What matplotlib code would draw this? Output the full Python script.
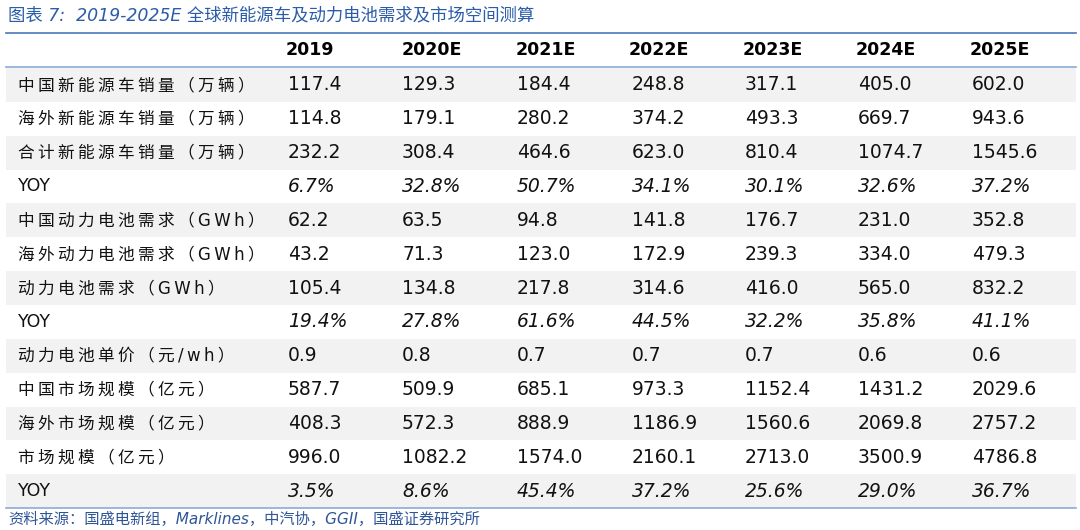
import matplotlib
matplotlib.use("Agg")
import matplotlib.pyplot as plt
from matplotlib.patches import Rectangle

title = "图表 7:  2019-2025E 全球新能源车及动力电池需求及市场空间测算"
source = "资料来源：国盛电新组，Marklines，中汽协，GGII，国盛证券研究所"
columns = ["2019", "2020E", "2021E", "2022E", "2023E", "2024E", "2025E"]
row_labels = ["中国新能源车销量（万辆）", "海外新能源车销量（万辆）", "合计新能源车销量（万辆）", "YOY",
              "中国动力电池需求（GWh）", "海外动力电池需求（GWh）", "动力电池需求（GWh）", "YOY",
              "动力电池单价（元/wh）", "中国市场规模（亿元）", "海外市场规模（亿元）", "市场规模（亿元）", "YOY"]
values = [
    ["117.4", "129.3", "184.4", "248.8", "317.1", "405.0", "602.0"],
    ["114.8", "179.1", "280.2", "374.2", "493.3", "669.7", "943.6"],
    ["232.2", "308.4", "464.6", "623.0", "810.4", "1074.7", "1545.6"],
    ["6.7%", "32.8%", "50.7%", "34.1%", "30.1%", "32.6%", "37.2%"],
    ["62.2", "63.5", "94.8", "141.8", "176.7", "231.0", "352.8"],
    ["43.2", "71.3", "123.0", "172.9", "239.3", "334.0", "479.3"],
    ["105.4", "134.8", "217.8", "314.6", "416.0", "565.0", "832.2"],
    ["19.4%", "27.8%", "61.6%", "44.5%", "32.2%", "35.8%", "41.1%"],
    ["0.9", "0.8", "0.7", "0.7", "0.7", "0.6", "0.6"],
    ["587.7", "509.9", "685.1", "973.3", "1152.4", "1431.2", "2029.6"],
    ["408.3", "572.3", "888.9", "1186.9", "1560.6", "2069.8", "2757.2"],
    ["996.0", "1082.2", "1574.0", "2160.1", "2713.0", "3500.9", "4786.8"],
    ["3.5%", "8.6%", "45.4%", "37.2%", "25.6%", "29.0%", "36.7%"],
]

W, H = 1080, 530
fig = plt.figure(figsize=(W/100, H/100), dpi=100)
ax = fig.add_axes([0, 0, 1, 1])
ax.set_xlim(0, W); ax.set_ylim(H, 0); ax.axis("off")
fam = ["Verdana", "DejaVu Sans", "Noto Sans CJK SC"]
blue = "#2F5597"

ax.text(8, 15, title, fontsize=12.5, style="italic", color="#2B5CA8", va="center", family=["DejaVu Sans", "Noto Sans CJK SC"])
ax.plot([6, 1076], [33, 33], color="#4A78B8", lw=1.2)
ax.plot([6, 1076], [66.5, 66.5], color="#8EA9D8", lw=1.2)
ax.plot([6, 1076], [508, 508], color="#8EA9D8", lw=1.2)

head_x = [310, 432, 546, 659, 773, 886, 1000]
val_x = [288, 402, 517, 632, 745, 858, 972]
for cx, c in zip(head_x, columns):
    ax.text(cx, 50, c, fontsize=12.5, weight="bold", ha="center", va="center", family=fam)

top, rh = 68, 33.85
for i, (lab, row) in enumerate(zip(row_labels, values)):
    y0 = top + i*rh
    if i % 2 == 0:
        ax.add_patch(Rectangle((6, y0), 1070, rh, color="#F2F2F2", lw=0))
    yc = y0 + rh/2
    if lab == "YOY":
        ax.text(18, yc, lab, fontsize=12.5, va="center", family=fam, color="#111111")
    else:
        ax.text(18, yc, "\u2009".join(lab), fontsize=12, va="center", family=fam, color="#111111")
    italic = lab == "YOY"
    for x, v in zip(val_x, row):
        ax.text(x, yc, v, fontsize=13.5, va="center", family=fam, style="italic" if italic else "normal", color="#111111")

ax.text(8, 519, source, fontsize=11, style="italic", color=blue, va="center", family=["DejaVu Sans", "Noto Sans CJK SC"])
fig.savefig("out.png", dpi=100)
